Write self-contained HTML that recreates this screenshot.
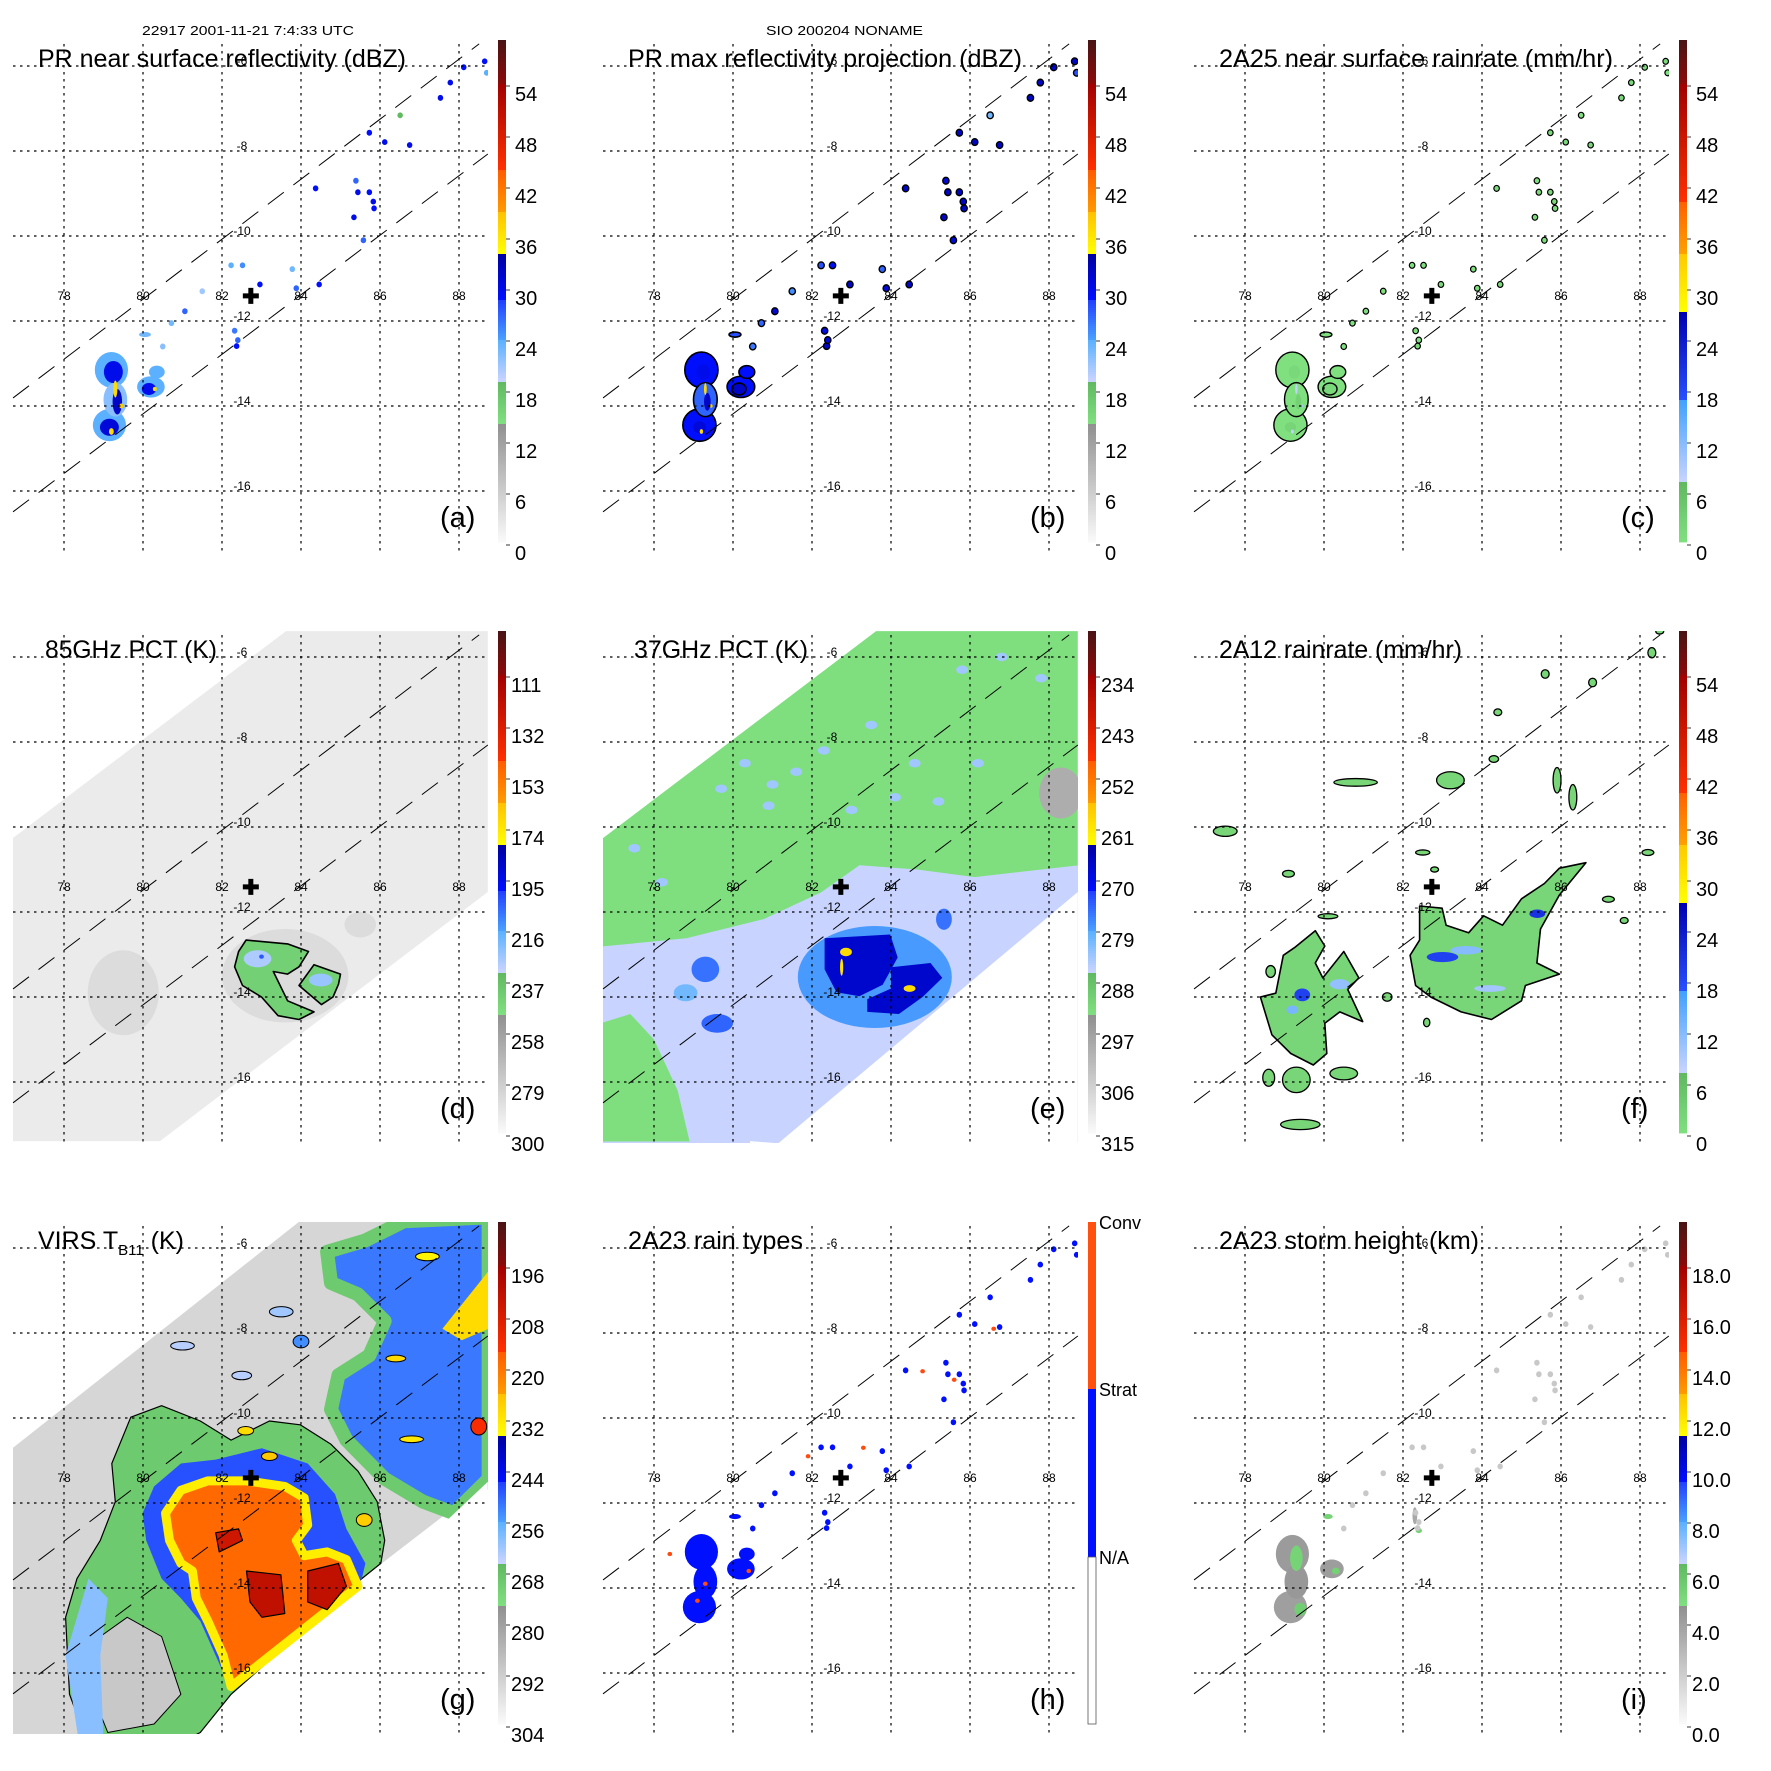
<!DOCTYPE html>
<html><head><meta charset="utf-8"><title>TRMM 22917 NONAME</title>
<style>
html,body{margin:0;padding:0;background:#fff;}
svg{display:block;font-family:"Liberation Sans",Arial,sans-serif;}
</style></head>
<body>
<svg id="fig" width="1771" height="1771" viewBox="0 0 1771 1771" xmlns="http://www.w3.org/2000/svg">
<rect x="0" y="0" width="1771" height="1771" fill="#fff"/>
<defs><clipPath id="plotclip"><rect x="13" y="40" width="475" height="512"/></clipPath></defs>
<text x="142" y="35" font-size="13" textLength="212" lengthAdjust="spacingAndGlyphs">22917 2001-11-21 7:4:33 UTC</text>
<text x="766" y="35" font-size="13" textLength="157" lengthAdjust="spacingAndGlyphs">SIO 200204 NONAME</text>
</svg>
<script>
// ---- geographic axes ----
const lonTicks=[78,80,82,84,86,88];
const latTicks=[-6,-8,-10,-12,-14,-16];
const swathUpper=[[76.71,-13.81],[88.51,-5.48]];
const swathLower=[[76.71,-16.49],[88.73,-8.07]];
const stormCenter=[82.73,-11.41];
// ---- colorbar labels ----
const labelsDBZ=['0','6','12','18','24','30','36','42','48','54'];
const labels85=['300','279','258','237','216','195','174','153','132','111'];
const labels37=['315','306','297','288','279','270','261','252','243','234'];
const labelsVIRS=['304','292','280','268','256','244','232','220','208','196'];
const labelsHeight=['0.0','2.0','4.0','6.0','8.0','10.0','12.0','14.0','16.0','18.0'];
const labelsRainType=['N/A','Strat','Conv'];
// ---- PR cells: lon, lat, rx(deg), ry(deg), dBZ ----
const prCells=[
[79.2,-13.15,0.42,0.42,25],[79.15,-14.45,0.42,0.38,25],[79.3,-13.85,0.3,0.4,23],
[79.25,-13.2,0.24,0.26,31],[79.15,-14.5,0.24,0.2,32],[79.35,-13.9,0.12,0.3,33],
[79.3,-13.6,0.05,0.2,38],[79.2,-14.6,0.06,0.08,38],[79.45,-14.0,0.05,0.06,39],
[80.2,-13.55,0.35,0.25,25],[80.15,-13.6,0.18,0.14,31],[80.35,-13.2,0.2,0.15,25],[80.05,-12.32,0.15,0.06,24],[80.3,-13.6,0.05,0.05,38]
];
const prDots=[
[82.23,-10.69,25],[82.52,-10.69,26],[82.96,-11.14,30],[83.78,-10.78,24],[83.88,-11.23,28],[84.46,-11.14,30],
[82.32,-12.23,27],[82.37,-12.59,30],[84.37,-8.88,30],[85.39,-8.70,28],[85.44,-8.97,31],[85.73,-8.97,30],
[85.83,-9.19,31],[85.34,-9.56,31],[85.58,-10.10,28],[85.73,-7.57,30],[86.12,-7.79,31],[86.75,-7.86,31],
[86.51,-7.16,20],[87.53,-6.75,31],[87.78,-6.39,31],[88.12,-6.03,30],[88.65,-5.89,30],[88.70,-6.16,25],
[81.06,-11.77,28],[80.72,-12.05,24],[85.85,-9.35,30],[82.40,-12.45,28],[81.5,-11.3,22],[80.5,-12.6,23]
];
const convDots=[[79.3,-13.9],[79.1,-14.3],[80.4,-13.6],[81.9,-10.9],[83.3,-10.7],[84.8,-8.9],[85.6,-9.1],[86.6,-7.9],[78.4,-13.2]];
const heightCells=[
[79.2,-13.2,0.42,0.45,4.6],[79.15,-14.45,0.42,0.38,4.4],[79.3,-13.85,0.3,0.4,4.7],
[79.3,-13.3,0.16,0.3,5.6],[79.4,-14.5,0.15,0.15,5.8],[80.2,-13.55,0.3,0.22,4.5],
[80.3,-13.6,0.1,0.08,5.7],[80.1,-12.32,0.12,0.06,5.6],[82.3,-12.3,0.06,0.2,4.0],[82.4,-12.65,0.08,0.06,5.7]
];
// ---- 85 GHz PCT (K) ----
const pct85Swath=[[76.71,-10.26],[83.62,-5.39],[88.73,-5.39],[88.73,-11.53],[80.43,-17.39],[76.71,-17.39]];
const pct85BlobA=[[82.61,-12.66],[83.66,-12.75],[84.19,-12.93],[83.95,-13.29],[83.66,-13.46],[83.3,-13.4],[83.66,-14.09],[84.33,-14.35],[83.95,-14.53],[83.42,-14.44],[83.0,-14.0],[82.52,-13.73],[82.32,-13.29],[82.42,-12.93]];
const pct85BlobB=[[83.95,-13.73],[84.33,-13.24],[85.0,-13.46],[84.95,-13.7],[84.81,-14.0],[84.52,-14.18]];
const pct85Cold=[[82.9,-13.1,0.35,0.2,225],[84.5,-13.6,0.3,0.15,222],[83.0,-13.05,0.06,0.05,200]];
const pct85Shade=[[79.5,-13.9,0.9,1.0,268],[83.6,-13.5,1.6,1.1,272],[85.5,-12.3,0.4,0.3,270]];
// ---- 37 GHz PCT (K) ----
const pct37Base=292;
const pct37Warm=[[76.71,-12.81],[78.82,-12.62],[80.77,-12.17],[82.23,-11.54],[83.20,-10.90],[84.66,-11.0],[86.12,-11.18],[88.75,-10.90],[88.75,-18],[76.71,-18]];
const pct37Green=[[76.71,-14.6],[77.4,-14.4],[78.0,-15.0],[78.6,-16.2],[78.9,-17.4],[76.71,-17.4]];
const pct37Ring=[[83.59,-13.53,1.95,1.2,277]];
const pct37CoreA=[[82.32,-12.62],[83.98,-12.53],[84.17,-13.07],[83.79,-13.71],[83.20,-13.98],[82.62,-13.89],[82.32,-13.35]];
const pct37CoreB=[[84.0,-13.3],[85.0,-13.2],[85.3,-13.55],[84.8,-14.0],[84.2,-14.4],[83.4,-14.35],[83.4,-14.05],[84.0,-13.8]];
const pct37Blue=[[79.3,-13.35,0.35,0.3,274],[79.6,-14.62,0.4,0.22,273],[85.34,-12.17,0.2,0.25,274],[78.8,-13.9,0.3,0.2,279]];
const pct37Hot=[[82.86,-12.94,0.15,0.1,258],[84.47,-13.80,0.15,0.08,258],[82.75,-13.3,0.04,0.2,259]];
const pct37Specks=[[80.3,-8.5],[81,-9],[82.3,-8.2],[83.5,-7.6],[85.2,-9.4],[84.6,-8.5],[79.7,-9.1],[86.2,-8.5],[87.8,-6.5],[85.8,-6.3],[81.6,-8.7],[83.0,-9.6],[77.5,-10.5],[78.2,-11.3],[84.1,-9.3],[80.9,-9.5],[86.8,-6.0]];
const pct37Gray=[[88.3,-9.2,0.55,0.6,298]];
// ---- 2A12 rain (mm/hr) ----
const rainBlobW=[[79.78,-12.44],[80.02,-12.80],[79.78,-13.20],[79.97,-13.55],[80.50,-12.93],[80.88,-13.55],[80.60,-13.82],[80.98,-14.58],[80.40,-14.35],[80.02,-14.62],[80.07,-15.33],[79.73,-15.60],[79.16,-15.33],[78.68,-14.89],[78.39,-14.00],[78.78,-13.91],[78.97,-13.02],[79.25,-12.84]];
const rainBlobE=[[82.42,-11.86],[82.99,-11.91],[83.09,-12.31],[83.66,-12.49],[84.04,-12.09],[84.52,-12.31],[85.00,-11.69],[85.58,-11.33],[85.96,-10.97],[86.63,-10.84],[85.96,-11.60],[85.48,-12.40],[85.39,-13.20],[85.96,-13.46],[85.10,-13.73],[85.00,-14.09],[84.24,-14.53],[83.47,-14.35],[82.70,-14.00],[82.32,-13.73],[82.18,-13.02],[82.42,-12.66]];
const rainHeavy=[[79.45,-13.95,0.2,0.15,20],[79.2,-14.3,0.15,0.1,14],[80.4,-13.7,0.25,0.12,12],[83.0,-13.06,0.4,0.12,20],[83.6,-12.9,0.4,0.1,13],[85.4,-12.04,0.2,0.1,22],[84.2,-13.8,0.4,0.08,11]];
const rainSmall=[[77.5,-10.1,0.3,0.12,3],[80.8,-8.95,0.55,0.09,3],[83.2,-8.9,0.35,0.2,3],[79.3,-15.95,0.35,0.3,3],[80.5,-15.8,0.35,0.15,3],[79.4,-17.0,0.5,0.12,3],[78.6,-15.9,0.15,0.2,3],[84.3,-8.4,0.12,0.08,3],[85.9,-8.9,0.1,0.3,3],[86.3,-9.3,0.1,0.3,3],[88.2,-10.6,0.15,0.07,3],[87.2,-11.7,0.15,0.07,3],[87.6,-12.2,0.1,0.07,3],[79.1,-11.1,0.15,0.08,3],[78.65,-13.4,0.12,0.14,3],[80.1,-12.1,0.25,0.06,3],[81.6,-14.0,0.12,0.1,3],[82.5,-10.6,0.18,0.06,3],[82.6,-14.6,0.08,0.1,3],[86.8,-6.6,0.1,0.1,3],[88.3,-5.9,0.1,0.12,3],[88.5,-5.4,0.1,0.06,3],[85.6,-6.4,0.1,0.1,3],[84.4,-7.3,0.1,0.08,3],[82.8,-11.0,0.1,0.06,3]];
// ---- VIRS TB11 (K) ----
const virsSwath=[[76.71,-10.7],[84.2,-5.2],[88.73,-5.2],[88.73,-11.5],[80.2,-17.6],[76.71,-17.6]];
const virsOuter=[[79.69,-9.98],[80.47,-9.71],[81.45,-10.07],[82.23,-10.52],[83.20,-10.07],[83.98,-10.16],[84.76,-10.62],[85.44,-11.25],[85.93,-11.97],[86.12,-12.88],[86.02,-13.42],[85.54,-13.78],[82.23,-16.50],[81.45,-17.40],[80.28,-17.95],[78.72,-17.95],[78.14,-16.50],[78.04,-14.69],[78.33,-13.78],[78.92,-12.88],[79.30,-11.97],[79.21,-11.07]];
const virsHole=[[78.92,-15.14],[79.6,-14.69],[80.47,-15.14],[80.96,-16.5],[80.28,-17.2],[79.11,-17.4],[78.72,-16.5]];
const virsWest=[[78.62,-13.78],[79.11,-14.24],[78.92,-15.59],[79.01,-17.86],[78.43,-17.95],[78.04,-15.59]];
const virsRing=[[80.28,-11.61],[80.96,-11.07],[81.84,-10.98],[83.01,-10.71],[84.17,-11.07],[84.86,-11.79],[85.15,-12.61],[85.63,-13.42],[85.54,-13.78],[82.23,-16.41],[81.84,-15.59],[81.45,-14.78],[80.96,-14.24],[80.47,-13.78],[80.08,-12.88],[79.99,-12.24]];
const virsCore=[[80.57,-12.24],[80.96,-11.70],[81.64,-11.48],[82.62,-11.48],[83.59,-11.61],[84.08,-11.88],[84.17,-12.52],[83.88,-12.88],[84.08,-13.24],[84.66,-13.15],[85.15,-13.33],[85.44,-13.96],[82.23,-16.32],[82.03,-15.59],[81.64,-14.78],[81.35,-14.24],[81.25,-13.60],[80.96,-13.42],[80.67,-12.88]];
const virsCold1=[[82.62,-13.60],[83.49,-13.69],[83.59,-14.60],[83.01,-14.69],[82.71,-14.33]];
const virsCold2=[[84.17,-13.60],[84.95,-13.42],[85.15,-13.96],[84.66,-14.51],[84.17,-14.33]];
const virsCold3=[[81.84,-12.70],[82.42,-12.61],[82.52,-12.88],[81.93,-13.15]];
const virsBandNE=[[84.66,-6.09],[85.63,-5.82],[86.61,-5.37],[88.75,-5.28],[88.75,-11.43],[87.87,-12.24],[87.09,-11.97],[86.12,-11.43],[85.15,-10.52],[84.76,-9.80],[84.95,-8.99],[85.73,-8.53],[86.12,-7.72],[85.44,-7.09],[84.76,-6.82]];
const virsBandCold=[[87.58,-7.90],[88.75,-6.54],[88.75,-7.90],[88.07,-8.17]];
const virsSpots=[[86.4,-8.6,0.25,0.08,228],[86.8,-10.5,0.3,0.08,230],[87.2,-6.2,0.3,0.1,232],[88.5,-10.2,0.2,0.2,212],[82.6,-10.3,0.2,0.1,228],[83.2,-10.9,0.2,0.1,225],[85.6,-12.4,0.2,0.15,226],[81.0,-8.3,0.3,0.1,262],[83.5,-7.5,0.3,0.12,260],[82.5,-9.0,0.25,0.1,262],[84.0,-8.2,0.2,0.15,252]];

// ---- helpers ----
const svg=document.getElementById('fig');
const NS='http://www.w3.org/2000/svg';
const colX=[0,590,1181], rowY=[0,591,1182];
function lx(lon){return 64+(lon-78)*39.5;}
function ly(lat){return 66+(-6-lat)*42.5;}
function mk(tag,attrs,parent,name,inter){
  const el=document.createElementNS(NS,tag);
  for(const k in attrs) el.setAttribute(k,attrs[k]);
  
  
  parent.appendChild(el);return el;
}
function hex2rgb(h){return [parseInt(h.substr(1,2),16),parseInt(h.substr(3,2),16),parseInt(h.substr(5,2),16)];}
function mix(a,b,t){const A=hex2rgb(a),B=hex2rgb(b);return 'rgb('+A.map((v,i)=>Math.round(v+(B[i]-v)*t)).join(',')+')';}
const stdBands=[[40,83,'#4a1414','#8a0a0a'],[83,169,'#a00000','#ff3000'],[169,212,'#ff5a00','#ff9a00'],[212,254,'#ffc000','#ffff00'],[254,300,'#0000a0','#0010ff'],[300,340,'#2040ff','#4aa0ff'],[340,381,'#5ab0ff','#c8d4ff'],[381,424,'#60b860','#80e080'],[424,542,'#909090','#fafafa']];
const rainBands=[[40,83,'#4a1414','#8a0a0a'],[83,202,'#a00000','#ff3000'],[202,253,'#ff6000','#ffa000'],[253,312,'#ffc800','#ffff00'],[312,400,'#0000b0','#2850ff'],[400,482,'#40a0ff','#c8d4ff'],[482,542,'#60b860','#80e080']];
function barColor(y,bands){
  if(y<40)y=40;if(y>542)y=542;
  for(const b of bands){if(y>=b[0]&&y<=b[1])return mix(b[2],b[3],(y-b[0])/(b[1]-b[0]));}
  return '#fff';
}
function pts(arr){return arr.map(p=>lx(p[0]).toFixed(1)+','+ly(p[1]).toFixed(1)).join(' ');}

const panels=[
 {id:'a',c:0,r:0,title:'PR near surface reflectivity (dBZ)',tx:38,tl:368,labels:labelsDBZ,v0:0,step:6,bands:stdBands},
 {id:'b',c:1,r:0,title:'PR max reflectivity projection (dBZ)',tx:38,tl:394,labels:labelsDBZ,v0:0,step:6,bands:stdBands},
 {id:'c',c:2,r:0,title:'2A25 near surface rainrate (mm/hr)',tx:38,tl:394,labels:labelsDBZ,v0:0,step:6,bands:rainBands},
 {id:'d',c:0,r:1,title:'85GHz PCT (K)',tx:45,tl:172,labels:labels85,v0:300,step:-21,bands:stdBands},
 {id:'e',c:1,r:1,title:'37GHz PCT (K)',tx:44,tl:174,labels:labels37,v0:315,step:-9,bands:stdBands},
 {id:'f',c:2,r:1,title:'2A12 rainrate (mm/hr)',tx:38,tl:243,labels:labelsDBZ,v0:0,step:6,bands:rainBands},
 {id:'g',c:0,r:2,title:'VIRS',tx:38,tl:0,labels:labelsVIRS,v0:304,step:-12,bands:stdBands},
 {id:'h',c:1,r:2,title:'2A23 rain types',tx:38,tl:175,labels:null,v0:0,step:1,bands:null},
 {id:'i',c:2,r:2,title:'2A23 storm height (km)',tx:38,tl:260,labels:labelsHeight,v0:0,step:2,bands:stdBands}
];
function cmap(P,v){return barColor(553-(v-P.v0)/P.step*51,P.bands);}
function ell(g,P,c,name,fill,stroke,sw){
  return mk('ellipse',{cx:lx(c[0]),cy:ly(c[1]),rx:c[2]*39.5,ry:c[3]*42.5,fill:fill||cmap(P,c[4]),stroke:stroke||'none','stroke-width':sw||0},g,name,false);
}
function poly(g,arr,fill,stroke,sw,name){
  return mk('polygon',{points:pts(arr),fill:fill,stroke:stroke||'none','stroke-width':sw||0,'stroke-linejoin':'round'},g,name,false);
}
function zr(dbz){return Math.pow(Math.pow(10,dbz/10)/300,1/1.4);}

for(const P of panels){
  const G=mk('g',{transform:'translate('+colX[P.c]+','+rowY[P.r]+')'},svg,'panel-'+P.id,false);
  const D=mk('g',{'clip-path':'url(#plotclip)'},G,'data-layer-'+P.id,false);
  // ---- data ----
  if(P.id==='a'){
    prCells.forEach(c=>ell(D,P,c,'reflectivity-cell'));
    prDots.forEach(d=>ell(D,P,[d[0],d[1],0.07,0.07,d[2]],'reflectivity-dot'));
  } else if(P.id==='b'){
    prCells.slice(0,3).concat(prCells.slice(9,13)).forEach(c=>ell(D,P,[c[0],c[1],c[2],c[3],Math.min(c[4]+5,33)],'maxrefl-cell','','#000',1.6));
    prCells.slice(3,9).forEach(c=>ell(D,P,[c[0],c[1],c[2]*0.7,c[3]*0.7,c[4]],'maxrefl-core'));
    prDots.forEach(d=>ell(D,P,[d[0],d[1],0.08,0.08,Math.min(d[2]+4,33)],'maxrefl-dot','','#000',1.4));
  } else if(P.id==='c'){
    prCells.slice(0,3).concat(prCells.slice(9,13)).forEach(c=>ell(D,P,[c[0],c[1],c[2],c[3],zr(c[4])],'rainrate-cell','','#000',1.4));
    prCells.slice(3,9).forEach(c=>ell(D,P,[c[0],c[1],c[2]*0.6,c[3]*0.6,zr(c[4])],'rainrate-core'));
    prDots.forEach(d=>ell(D,P,[d[0],d[1],0.07,0.07,zr(d[2])],'rainrate-dot','','#000',1.2));
  } else if(P.id==='d'){
    poly(D,pct85Swath,'#ebebeb','',0,'swath-85ghz');
    pct85Shade.forEach(c=>ell(D,P,c,'pct85-shade','#dcdcdc'));
    poly(D,pct85BlobA,cmap(P,240),'#000',1.6,'pct85-region-main');
    poly(D,pct85BlobB,cmap(P,240),'#000',1.6,'pct85-region-east');
    pct85Cold.forEach(c=>ell(D,P,c,'pct85-cold'));
  } else if(P.id==='e'){
    poly(D,pct85Swath,cmap(P,pct37Base),'',0,'swath-37ghz');
    poly(D,pct37Warm,'#c8d4ff','',0,'pct37-depressed-region');
    poly(D,pct37Green,cmap(P,pct37Base),'',0,'pct37-clear-patch');
    pct37Specks.forEach(s=>ell(D,P,[s[0],s[1],0.15,0.1,282],'pct37-speck'));
    pct37Ring.forEach(c=>ell(D,P,c,'pct37-ring'));
    pct37Blue.forEach(c=>ell(D,P,c,'pct37-scattering'));
    poly(D,pct37CoreA,cmap(P,266),'',0,'pct37-core-a');
    poly(D,pct37CoreB,cmap(P,266),'',0,'pct37-core-b');
    pct37Hot.forEach(c=>ell(D,P,c,'pct37-ice'));
    pct37Gray.forEach(c=>ell(D,P,c,'pct37-warm'));
    poly(D,[[76.71,-5.39],[83.62,-5.39],[76.71,-10.26]],'#fff','',0,'swath-mask');
    poly(D,[[88.73,-11.53],[88.73,-18],[80.43,-17.39],[80.43,-18]],'#fff','',0,'swath-mask');
  } else if(P.id==='f'){
    poly(D,rainBlobW,cmap(P,3),'#000',1.6,'rain-region-west');
    poly(D,rainBlobE,cmap(P,3),'#000',1.6,'rain-region-east');
    rainHeavy.forEach(c=>ell(D,P,c,'rain-heavy'));
    rainSmall.forEach(c=>ell(D,P,c,'rain-small','','#000',1.3));
  } else if(P.id==='g'){
    poly(D,virsSwath,'#d6d6d6','',0,'swath-virs');
    poly(D,virsOuter,cmap(P,268),'#000',1.2,'virs-outer-cloud');
    poly(D,virsHole,'#c8c8c8','#000',1,'virs-clear-hole');
    poly(D,virsWest,cmap(P,258),'',0,'virs-west-band');
    poly(D,virsBandNE,cmap(P,250),cmap(P,268),14,'virs-ne-band');
    poly(D,virsBandCold,cmap(P,228),'',0,'virs-ne-cold');
    poly(D,virsRing,cmap(P,246),'',0,'virs-ring');
    poly(D,virsCore,cmap(P,216),cmap(P,231),9,'virs-core');
    poly(D,virsCold1,cmap(P,200),'#000',1.2,'virs-cold-1');
    poly(D,virsCold2,cmap(P,200),'#000',1.2,'virs-cold-2');
    poly(D,virsCold3,cmap(P,203),'#000',1.2,'virs-cold-3');
    virsSpots.forEach(c=>ell(D,P,c,'virs-spot','','#000',1));
    poly(D,[[88.73,-11.5],[88.73,-19],[80.2,-17.6],[80.2,-19]],'#fff','',0,'swath-mask');
  } else if(P.id==='h'){
    prCells.slice(0,3).concat(prCells.slice(9,13)).forEach(c=>ell(D,P,c,'stratiform-cell','#0010ff'));
    prDots.forEach(d=>ell(D,P,[d[0],d[1],0.07,0.07,0],'stratiform-dot','#0010ff'));
    convDots.forEach(d=>ell(D,P,[d[0],d[1],0.06,0.05,0],'convective-dot','#ff4a10'));
  } else if(P.id==='i'){
    heightCells.forEach(c=>ell(D,P,c,'storm-height-cell'));
    prDots.forEach(d=>ell(D,P,[d[0],d[1],0.07,0.07,2.6],'storm-height-dot'));
  }
  // ---- grid ----
  lonTicks.forEach(lon=>{
    mk('line',{x1:lx(lon),x2:lx(lon),y1:44,y2:552,stroke:'#000','stroke-width':1.2,'stroke-dasharray':'2.5,4.5'},G,'meridian-'+lon,false);
    const t=mk('text',{x:lx(lon),y:300,'font-size':12,'text-anchor':'middle'},G,'lon-label-'+lon,false);t.textContent=String(lon);
  });
  latTicks.forEach(lat=>{
    mk('line',{x1:13,x2:488,y1:ly(lat),y2:ly(lat),stroke:'#000','stroke-width':1.2,'stroke-dasharray':'2.5,4.5'},G,'parallel-'+lat,false);
    const t=mk('text',{x:242,y:ly(lat)-1,'font-size':12,'text-anchor':'middle'},G,'lat-label-'+lat,false);t.textContent=String(lat);
  });
  [swathUpper,swathLower].forEach((s,i)=>{
    mk('line',{x1:lx(s[0][0]),y1:ly(s[0][1]),x2:lx(s[1][0]),y2:ly(s[1][1]),stroke:'#000','stroke-width':1,'stroke-dasharray':'20,12'},G,i?'pr-swath-edge-lower':'pr-swath-edge-upper',false);
  });
  const cx=lx(stormCenter[0]),cy=ly(stormCenter[1]);
  mk('path',{d:'M'+(cx-2.5)+','+(cy-8)+'h5v5.5h5.5v5h-5.5v5.5h-5v-5.5h-5.5v-5h5.5z',fill:'#000'},G,'storm-center-marker',false);
  // ---- title ----
  let tt;
  if(P.id==='g'){
    tt=mk('text',{x:P.tx,y:67,'font-size':25},G,'panel-title',false);
    tt.innerHTML='VIRS T<tspan font-size="15" dy="6">B11</tspan><tspan dy="-6"> (K)</tspan>';
  } else {
    tt=mk('text',{x:P.tx,y:67,'font-size':25,textLength:P.tl,lengthAdjust:'spacingAndGlyphs'},G,'panel-title',false);
    tt.textContent=P.title;
  }
  const pl=mk('text',{x:440,y:527,'font-size':29},G,'panel-letter',false);pl.textContent='('+P.id+')';
  // ---- colorbar ----
  const CB=mk('g',{},G,'colorbar',false);
  if(P.bands){
    for(let y=40;y<542;y+=2){
      mk('rect',{x:498,y:y,width:8,height:2.4,fill:barColor(y+1,P.bands)},CB,'colorbar-step',false);
    }
    P.labels.forEach((lab,i)=>{
      const yy=553-i*51;
      mk('line',{x1:506,x2:510,y1:yy-8,y2:yy-8,stroke:'#000','stroke-width':0.8},CB,'colorbar-tick',false);
      const t=mk('text',{x:lab.length>=3?511:515,y:yy+7,'font-size':20},CB,'colorbar-label',false);t.textContent=lab;
    });
  } else {
    mk('rect',{x:498,y:40,width:8,height:167,fill:'#ff5010'},CB,'colorbar-conv',false);
    mk('rect',{x:498,y:207,width:8,height:168,fill:'#0010ff'},CB,'colorbar-strat',false);
    mk('rect',{x:498,y:375,width:8,height:167,fill:'#fff',stroke:'#555','stroke-width':0.8},CB,'colorbar-na',false);
    [[labelsRainType[2],47],[labelsRainType[1],214],[labelsRainType[0],382]].forEach(p=>{
      const t=mk('text',{x:509,y:p[1],'font-size':18},CB,'colorbar-label',false);t.textContent=p[0];
    });
  }
}
</script>
</body></html>
